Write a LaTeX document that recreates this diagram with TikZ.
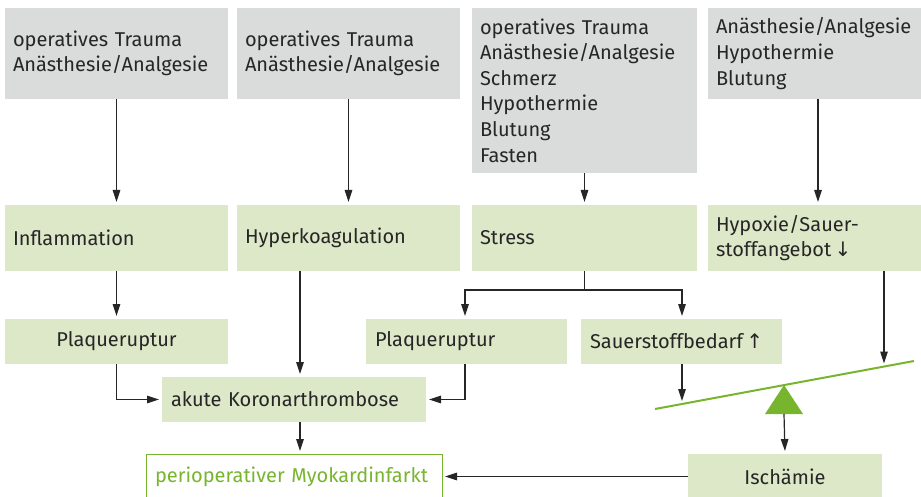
\documentclass[tikz,border=0pt]{standalone}
\usepackage{fontspec}
\setmainfont{Fira Sans}
\newfontfamily\arrowfont{DejaVu Sans}
\usetikzlibrary{arrows.meta}
\definecolor{boxgray}{HTML}{DADBDB}
\definecolor{boxgreen}{HTML}{DCE8C7}
\definecolor{accent}{HTML}{78B52F}
\definecolor{ink}{HTML}{262626}
\newcommand{\upar}{{\arrowfont\char"2191}}
\newcommand{\downar}{{\arrowfont\char"2193}}
\begin{document}
\begin{tikzpicture}[x=1pt,y=-1pt,
  base/.style={inner sep=0pt, outer sep=0pt, font=\fontsize{20}{25.6}\selectfont, text=ink, align=left},
  gbox/.style={base, fill=boxgray},
  lbox/.style={base, fill=boxgreen},
  conn/.style={draw=ink, line width=1.2pt, -{Triangle[width=7.5pt,length=12pt]}, shorten >=3pt},
  plain/.style={draw=ink, line width=1.2pt},
]
\useasboundingbox (0,0) rectangle (921,497);
\clip (0,0) rectangle (921,497);

% causes (grey)
\node[gbox, minimum width=223, minimum height=91, text width=207] (t1) at (116.5,53.5)
  {operatives Trauma\\Anästhesie/Analgesie};
\node[gbox, minimum width=223, minimum height=91, text width=207] (t2) at (348.5,53.5)
  {operatives Trauma\\Anästhesie/Analgesie};
\node[gbox, minimum width=225, minimum height=165, text width=209] (t3) at (584.5,90.5)
  {operatives Trauma\\Anästhesie/Analgesie\\Schmerz\\Hypothermie\\Blutung\\Fasten};
\node[gbox, minimum width=223, minimum height=91, text width=207] (t4) at (819.5,53.5)
  {Anästhesie/Analgesie\\Hypothermie\\Blutung};

% mechanisms (green)
\node[lbox, minimum width=223, minimum height=66, text width=207] (g1) at (116.5,238) {Inflammation};
\node[lbox, minimum width=223, minimum height=66, text width=207] (g2) at (348.5,238) {Hyperkoagulation};
\node[lbox, minimum width=225, minimum height=66, text width=209] (g3) at (584.5,238) {Stress};
\node[lbox, minimum width=223, minimum height=66, text width=207] (g4) at (819.5,238)
  {Hypoxie/Sauer-\\stoffangebot\,\downar};

\node[lbox, minimum width=223, minimum height=45, align=center] (p1) at (116.5,341.5) {Plaqueruptur};
\node[lbox, minimum width=201, minimum height=45, text width=183] (p2) at (466.5,341.5) {Plaqueruptur};
\node[lbox, minimum width=201, minimum height=45, text width=183] (s) at (681.5,341.5) {Sauerstoffbedarf\,\upar};

\node[lbox, minimum width=264, minimum height=45, text width=246] (akute) at (294,399.5) {akute Koronarthrombose};
\node[base, draw=accent, line width=1pt, fill=white, text=accent, minimum width=296, minimum height=45, text width=278]
  (mi) at (294,476.5) {perioperativer Myokardinfarkt};
\node[lbox, minimum width=194, minimum height=45, align=center] (isch) at (785,476.5) {Ischämie};

% balance beam
\coordinate (levL) at (655,409);
\coordinate (levR) at (914,361);
\coordinate (pivot) at (784,385);
\coordinate (pivL) at (765,414);
\coordinate (pivR) at (803,414);
\coordinate (pivB) at (784,414);
\coordinate (demand) at (682,404);
\coordinate (supply) at (884,366.5);
\draw[accent, line width=2pt] (levL) -- (levR);
\fill[accent] (pivL) -- (pivot) -- (pivR) -- cycle;

% connectors
\draw[conn] (t1.south) -- (g1.north);
\draw[conn] (t2.south) -- (g2.north);
\draw[conn] (t3.south) -- (g3.north);
\draw[conn] ([xshift=-1.5pt]t4.south) -- ([xshift=-1.5pt]g4.north);
\draw[conn] (g1.south) -- (p1.north);
\draw[conn] ([xshift=6pt]g2.south -| akute.north) -- ([xshift=6pt]akute.north);
\draw[plain] (g3.south) -- ++(0,19) coordinate (split);
\draw[conn] (split) -| ([xshift=-1.5pt]p2.north);
\draw[conn] (split) -| ([xshift=0.5pt]s.north);
\draw[conn] (p1.south) |- (akute.west);
\draw[conn] ([xshift=-1.5pt]p2.south) |- (akute.east);
\draw[conn] (s.south -| demand) -- (demand);
\draw[conn] (g4.south -| supply) -- (supply);
\draw[conn] (pivB) -- (isch.north);
\draw[conn] ([xshift=6pt]akute.south) -- ([xshift=6pt]mi.north);
\draw[conn] (isch.west) -- (mi.east);
\end{tikzpicture}
\end{document}
